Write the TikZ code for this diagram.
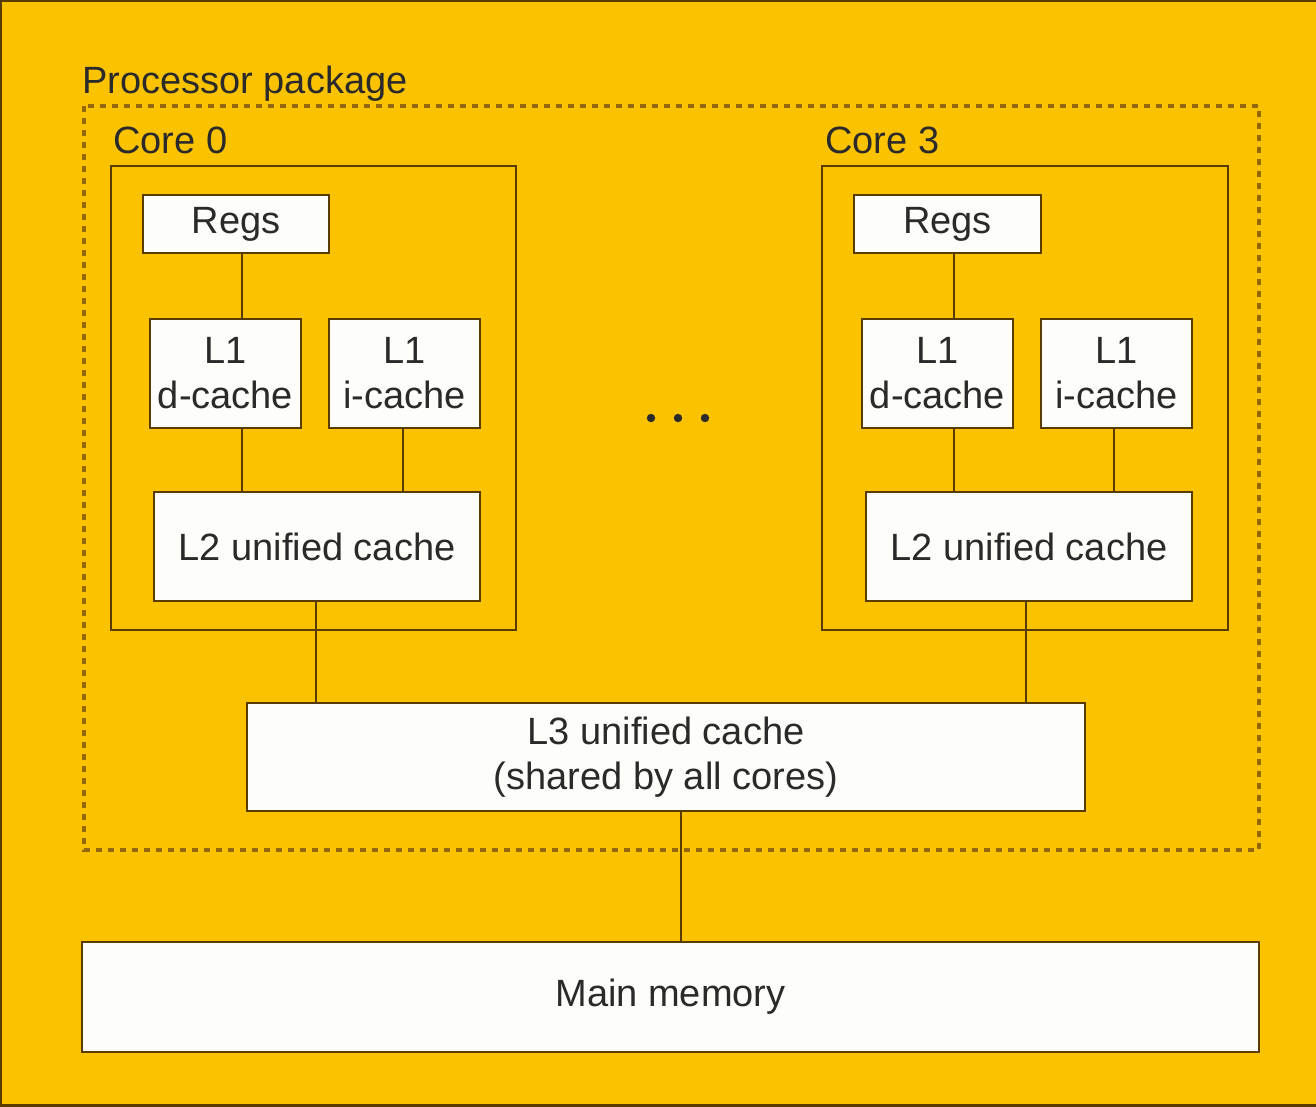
\documentclass[tikz,border=0pt]{standalone}
\usepackage{fontspec}
\setmainfont{Liberation Sans}
\definecolor{bg}{HTML}{FBC200}
\definecolor{edge}{HTML}{5A3C00}
\definecolor{boxfill}{HTML}{FDFEFA}
\definecolor{txt}{HTML}{2A2A2A}
\definecolor{dashc}{HTML}{93670A}
\begin{document}
\begin{tikzpicture}[x=1pt,y=-1pt,
  lbl/.style={font=\fontsize{38}{45}\selectfont, text=txt, inner sep=0pt},
  box/.style={draw=edge, line width=2.5pt, fill=boxfill, inner sep=0pt, align=center,
    text=txt, font=\fontsize{38}{45}\selectfont},
  corebox/.style={draw=edge, line width=2.5pt, inner sep=0pt},
  conn/.style={draw=edge, line width=2.5pt},
  pkg/.style={draw=dashc, line width=3.5pt, dash pattern=on 6pt off 6pt}]
\fill[bg] (0,0) rectangle (1316,1106);
\useasboundingbox (0,0) rectangle (1316,1106);
\draw[edge, line width=3pt] (0,1106) -- (0,0) -- (1316,0);
\draw[edge, line width=3pt] (0,1105) -- (1316,1105);

% processor package
\draw[pkg] (84,106) rectangle (1259,850);
\node[lbl, anchor=base west] (pkglbl) at (82,93) {Processor package};

% core 0
\node[corebox, minimum width=405pt, minimum height=464pt] (core0) at (313.5,398) {};
\node[lbl, anchor=base west] (core0lbl) at (113,153) {Core 0};
\node[box, minimum width=186pt, minimum height=58pt] (regs0) at (236,224) {Regs};
\node[box, minimum width=151pt, minimum height=109pt] (d0) at (225.5,373.5) {L1\\d-cache};
\node[box, minimum width=151pt, minimum height=109pt] (i0) at (404.5,373.5) {L1\\i-cache};
\node[box, minimum width=326pt, minimum height=109pt] (l2a) at (317,546.5) {L2 unified cache};

% core 3
\node[corebox, minimum width=406pt, minimum height=464pt] (core3) at (1025,398) {};
\node[lbl, anchor=base west] (core3lbl) at (825,153) {Core 3};
\node[box, minimum width=187pt, minimum height=58pt] (regs3) at (947.5,224) {Regs};
\node[box, minimum width=151pt, minimum height=109pt] (d3) at (937.5,373.5) {L1\\d-cache};
\node[box, minimum width=151pt, minimum height=109pt] (i3) at (1116.5,373.5) {L1\\i-cache};
\node[box, minimum width=326pt, minimum height=109pt] (l2b) at (1029,546.5) {L2 unified cache};

% shared
\node[box, minimum width=838pt, minimum height=108pt] (l3) at (666,757) {L3 unified cache\\(shared by all cores)};
\node[box, minimum width=1177pt, minimum height=110pt] (mem) at (670.5,997) {Main memory};

% dots
\foreach \x/\n in {651/a,678/b,705/c}
  \fill[txt] (\x,418) circle (4.2pt) coordinate (dot\n);

% connector x positions
\coordinate (xa) at (242,0);
\coordinate (xb) at (403,0);
\coordinate (xc) at (316,0);
\coordinate (xd) at (954,0);
\coordinate (xe) at (1114,0);
\coordinate (xf) at (1026,0);
\coordinate (xg) at (681,0);

\draw[conn] (xa |- regs0.south) -- (xa |- d0.north);
\draw[conn] (xa |- d0.south) -- (xa |- l2a.north);
\draw[conn] (xb |- i0.south) -- (xb |- l2a.north);
\draw[conn] (xc |- l2a.south) -- (xc |- l3.north);
\draw[conn] (xd |- regs3.south) -- (xd |- d3.north);
\draw[conn] (xd |- d3.south) -- (xd |- l2b.north);
\draw[conn] (xe |- i3.south) -- (xe |- l2b.north);
\draw[conn] (xf |- l2b.south) -- (xf |- l3.north);
\draw[conn] (xg |- l3.south) -- (xg |- mem.north);
\end{tikzpicture}
\end{document}
